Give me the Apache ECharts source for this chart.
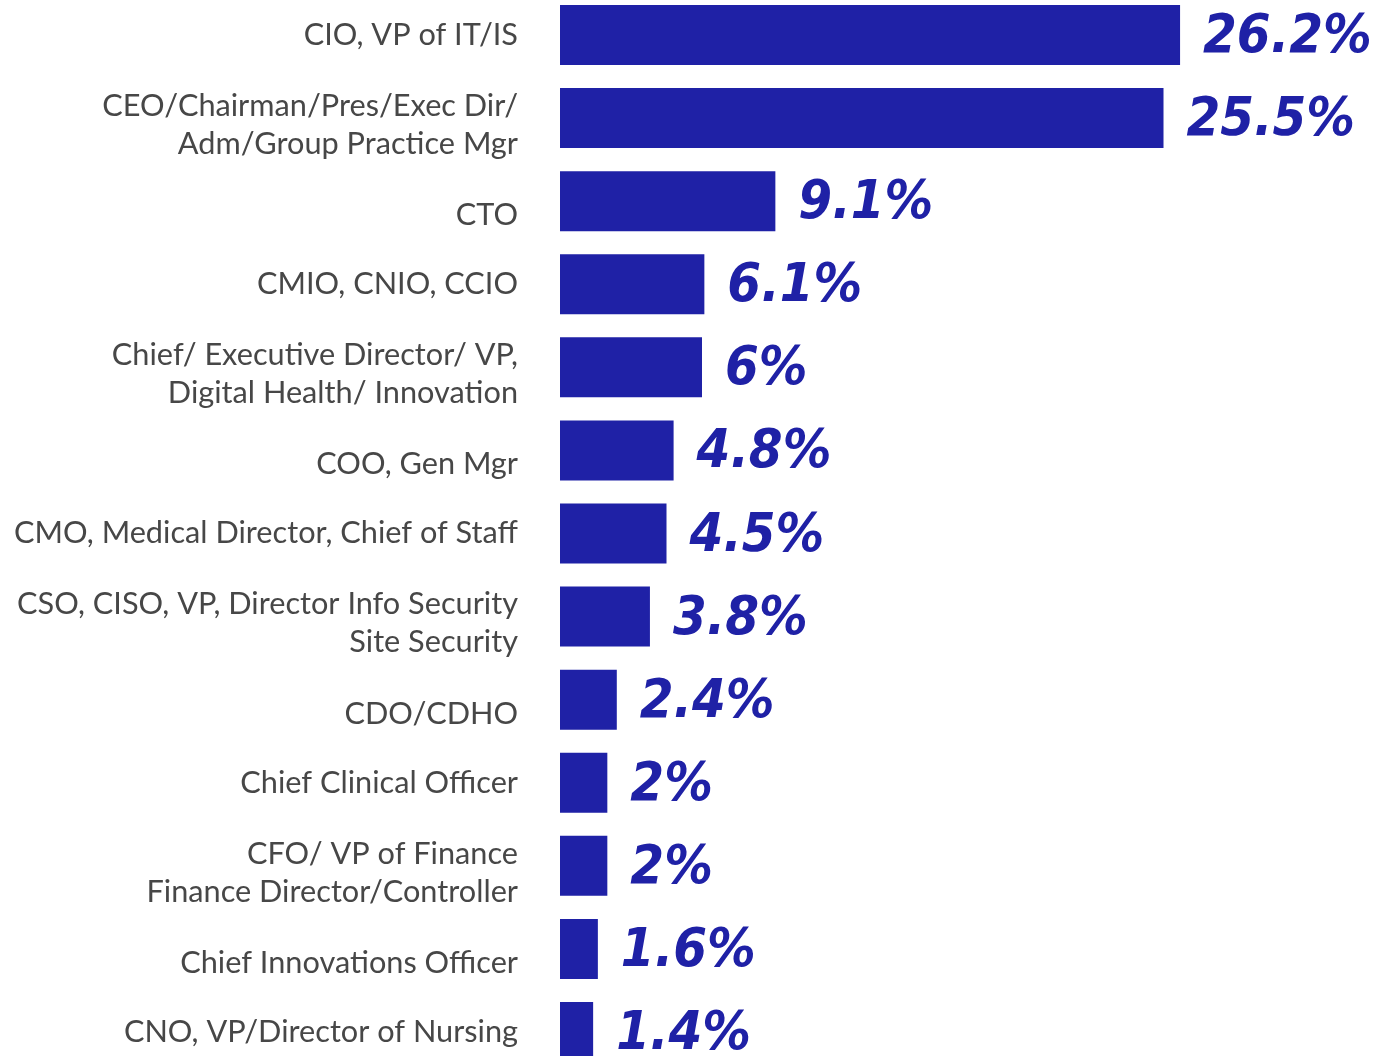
<!DOCTYPE html>
<html><head><meta charset="utf-8">
<script src="https://cdn.jsdelivr.net/npm/echarts@6/dist/echarts.min.js"></script>
<style>html,body{margin:0;padding:0;background:#fff}#c{width:1381px;height:1056px}</style>
</head><body><div id="c"></div>
<script>
const categories = [
  'CIO, VP of IT/IS',
  'CEO/Chairman/Pres/Exec Dir/\nAdm/Group Practice Mgr',
  'CTO',
  'CMIO, CNIO, CCIO',
  'Chief/ Executive Director/ VP,\nDigital Health/ Innovation',
  'COO, Gen Mgr',
  'CMO, Medical Director, Chief of Staff',
  'CSO, CISO, VP, Director Info Security\nSite Security',
  'CDO/CDHO',
  'Chief Clinical Officer',
  'CFO/ VP of Finance\nFinance Director/Controller',
  'Chief Innovations Officer',
  'CNO, VP/Director of Nursing'
];
const values = [26.2, 25.5, 9.1, 6.1, 6, 4.8, 4.5, 3.8, 2.4, 2, 2, 1.6, 1.4];

const BLUE = '#1f21a6';
const shifted = new Set([2, 5, 8, 11]);
const twoLine = new Set([1, 4, 7, 10]);
const chart = echarts.init(document.getElementById('c'), null, {renderer: 'canvas'});
const base = {fontFamily: 'Lato', fontSize: 30.7, color: '#474747', lineHeight: 38};
chart.setOption({
  animation: false,
  grid: {left: 560, right: 111, top: -6.5, height: 1080, outerBoundsMode: 'none', containLabel: false},
  xAxis: {type: 'value', min: 0, max: 30, show: false},
  yAxis: {
    type: 'category', inverse: true, data: categories,
    axisLine: {show: false}, axisTick: {show: false},
    axisLabel: {
      margin: 42, align: 'right',
      formatter: function (v, i) {
        const key = shifted.has(i) ? 's' : (twoLine.has(i) ? 't' : 'n');
        return v.split('\n').map(l => '{' + key + '|' + l + '}').join('\n');
      },
      rich: {
        n: Object.assign({}, base),
        t: Object.assign({padding: [14, 0, 0, 0]}, base),
        s: Object.assign({padding: [28, 0, 0, 0]}, base)
      }
    }
  },
  series: [{
    type: 'bar', data: values, barWidth: 60,
    itemStyle: {color: BLUE},
    label: {
      show: true, position: 'right', distance: 23, offset: [0, 3],
      formatter: p => p.value + '%',
      fontFamily: 'DejaVu Sans Condensed', fontStyle: 'italic', fontWeight: 'bold', fontSize: 54, color: BLUE
    }
  }]
});
</script></body></html>
